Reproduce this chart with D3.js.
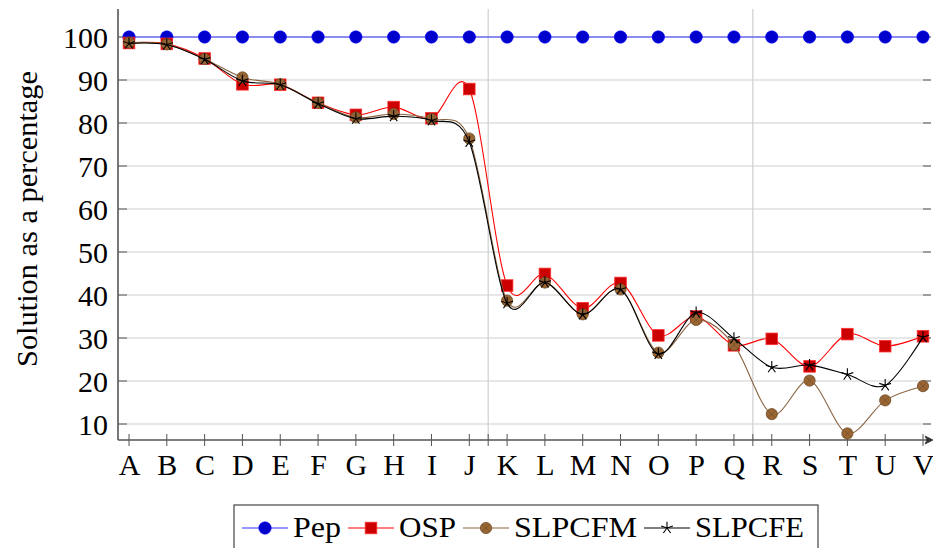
<!DOCTYPE html>
<html>
<head>
<meta charset="utf-8">
<script src="https://cdn.jsdelivr.net/npm/d3@7"></script>
<style>
  html, body { margin: 0; padding: 0; background: #fff; }
  svg { display: block; }
</style>
</head>
<body>
<svg id="chart" width="933" height="548"></svg>
<script>
// Instance labels along the x axis
const categories = ["A","B","C","D","E","F","G","H","I","J","K","L","M","N","O","P","Q","R","S","T","U","V"];

// Solution quality (percent) per method
const pep    = [100,100,100,100,100,100,100,100,100,100,100,100,100,100,100,100,100,100,100,100,100,100];
const osp    = [98.6,98.4,95.0,89.0,88.9,84.7,81.9,83.7,81.1,87.9,42.2,44.9,36.9,42.8,30.6,35.0,28.3,29.8,23.4,30.9,28.1,30.4];
const slpcfm = [98.7,98.3,94.9,90.6,89.0,84.7,81.3,82.1,80.9,76.4,38.7,42.9,35.5,41.3,26.6,34.2,28.4,12.3,20.1,7.8,15.5,18.8];
const slpcfe = [98.5,98.2,94.8,89.8,88.9,84.5,81.0,81.6,80.6,75.6,38.1,42.9,35.5,41.3,26.3,35.9,29.9,23.2,23.7,21.5,19.0,30.2];

const yTicks = [10,20,30,40,50,60,70,80,90,100];
const xGrid  = [9.5, 16.5];   // separators between instance groups
const seriesNames = ["Pep","OSP","SLPCFM","SLPCFE"];

const svg = d3.select("#chart");

// Pick an installed serif face; sizes tuned per face so glyph widths stay similar
const probe = svg.append("text").attr("x", -1000).attr("y", -1000).attr("font-size", 40)
  .text("SLPCFE Solution 1234567890");
function widthWith(family) {
  probe.style("font-family", family);
  return probe.node().getComputedTextLength();
}
const monoWidth = widthWith("monospace");
const candidates = [
  { family: "Liberation Serif", size: 30 },
  { family: "DejaVu Serif", size: 25 },
  { family: "Noto Serif", size: 27 }
];
let face = { family: "serif", size: 30 };
for (const c of candidates) {
  if (Math.abs(widthWith(`"${c.family}", monospace`) - monoWidth) > 0.5) { face = c; break; }
}
probe.remove();
const FONT = `"${face.family}", serif`;
const FS = face.size;

// Scales
const x = d3.scaleLinear().domain([0, categories.length - 1]).range([129, 923]);
const y = d3.scaleLinear().domain([10, 100]).range([424, 37]);

const plotLeft = 118, plotRight = 931, plotTop = 9, plotBottom = 440;
const gridColor = "#cfcfcf", axisColor = "#555";

// Horizontal grid lines
svg.append("g").selectAll("line").data(yTicks).join("line")
  .attr("x1", plotLeft).attr("x2", plotRight)
  .attr("y1", d => y(d)).attr("y2", d => y(d))
  .attr("stroke", gridColor).attr("stroke-width", 1.2);

// Vertical grid lines
svg.append("g").selectAll("line").data(xGrid).join("line")
  .attr("x1", d => x(d)).attr("x2", d => x(d))
  .attr("y1", plotTop).attr("y2", plotBottom)
  .attr("stroke", gridColor).attr("stroke-width", 1.2);

// Y tick marks (inside, both sides)
svg.append("g").selectAll("line").data(yTicks).join("line")
  .attr("x1", plotLeft).attr("x2", plotLeft + 9)
  .attr("y1", d => y(d)).attr("y2", d => y(d))
  .attr("stroke", axisColor).attr("stroke-width", 1);
svg.append("g").selectAll("line").data(yTicks).join("line")
  .attr("x1", plotRight - 8).attr("x2", plotRight)
  .attr("y1", d => y(d)).attr("y2", d => y(d))
  .attr("stroke", axisColor).attr("stroke-width", 1);

// Y axis with labels
const yAxis = svg.append("g")
  .attr("transform", `translate(${plotLeft},0)`)
  .call(d3.axisLeft(y).tickValues(yTicks).tickSize(0).tickPadding(10));
yAxis.select(".domain").remove();
yAxis.attr("font-family", null).attr("font-size", null);
yAxis.selectAll("text")
  .style("font-family", FONT).style("font-size", FS + "px")
  .attr("dy", "0.34em").attr("fill", "#000");

// X axis with labels
const xAxis = svg.append("g")
  .attr("transform", `translate(0,${plotBottom})`)
  .call(d3.axisBottom(x)
    .tickValues(d3.range(categories.length))
    .tickFormat(i => categories[i])
    .tickSize(0).tickPadding(14));
xAxis.select(".domain").remove();
xAxis.attr("font-family", null).attr("font-size", null);
xAxis.selectAll("text")
  .style("font-family", FONT).style("font-size", FS + "px")
  .attr("dy", "0.71em").attr("fill", "#000");

// X tick marks straddling the axis
svg.append("g").selectAll("line")
  .data(d3.range(categories.length).concat(xGrid)).join("line")
  .attr("x1", d => x(d)).attr("x2", d => x(d))
  .attr("y1", plotBottom - 6).attr("y2", plotBottom + 6)
  .attr("stroke", axisColor).attr("stroke-width", 1);

// Axis lines
svg.append("line").attr("x1", plotLeft).attr("x2", plotLeft).attr("y1", plotTop).attr("y2", plotBottom)
  .attr("stroke", axisColor).attr("stroke-width", 1.6);
svg.append("line").attr("x1", plotLeft).attr("x2", 930).attr("y1", plotBottom).attr("y2", plotBottom)
  .attr("stroke", axisColor).attr("stroke-width", 1.6);
svg.append("path").attr("d", `M925,${plotBottom-4} L933,${plotBottom} L925,${plotBottom+4} L927,${plotBottom} Z`)
  .attr("fill", "#333").attr("stroke", "#333").attr("stroke-width", 0.8);

// Y axis title
svg.append("text")
  .attr("transform", "translate(37,219) rotate(-90)")
  .attr("text-anchor", "middle")
  .style("font-family", FONT).style("font-size", FS + "px")
  .attr("textLength", 296).attr("lengthAdjust", "spacingAndGlyphs")
  .text("Solution as a percentage");

// Marker painters
function drawCircle(g, cx, cy) {
  g.append("circle").attr("cx", cx).attr("cy", cy).attr("r", 6.2)
    .attr("fill", "#0000cc").attr("stroke", "#0000ff").attr("stroke-width", 0.6);
}
function drawSquare(g, cx, cy) {
  g.append("rect").attr("x", cx - 5.8).attr("y", cy - 5.8).attr("width", 11.6).attr("height", 11.6)
    .attr("fill", "#cc0000").attr("stroke", "#ff3030").attr("stroke-width", 0.8);
}
function drawOtimes(g, cx, cy) {
  const r = 5.6, k = r * Math.SQRT1_2;
  g.append("circle").attr("cx", cx).attr("cy", cy).attr("r", r)
    .attr("fill", "#996633").attr("stroke", "#6e4a26").attr("stroke-width", 0.8);
  g.append("path").attr("d", `M${cx-k},${cy-k}L${cx+k},${cy+k}M${cx-k},${cy+k}L${cx+k},${cy-k}`)
    .attr("stroke", "#6e4a26").attr("stroke-width", 0.6);
}
function drawStar(g, cx, cy) {
  const r = 6.2;
  const d = d3.range(5).map(k => {
    const a = -Math.PI / 2 + k * 2 * Math.PI / 5;
    return `M${cx},${cy}L${cx + r * Math.cos(a)},${cy + r * Math.sin(a)}`;
  }).join("");
  g.append("path").attr("d", d).attr("stroke", "#000").attr("stroke-width", 1.1).attr("fill", "none");
}

const series = [
  { name: seriesNames[0], values: pep,    color: "#3030ff", marker: drawCircle },
  { name: seriesNames[1], values: osp,    color: "#ff0000", marker: drawSquare },
  { name: seriesNames[2], values: slpcfm, color: "#8a6440", marker: drawOtimes },
  { name: seriesNames[3], values: slpcfe, color: "#000000", marker: drawStar }
];

const line = d3.line()
  .x((d, i) => x(i))
  .y(d => y(d))
  .curve(d3.curveCardinal.tension(0.05));

// Series: line then its markers
series.forEach(s => {
  const g = svg.append("g");
  g.append("path").datum(s.values).attr("d", line)
    .attr("fill", "none").attr("stroke", s.color).attr("stroke-width", 1.1);
  s.values.forEach((v, i) => s.marker(g, x(i), y(v)));
});

// Legend
const legend = svg.append("g");
const legendTop = 505, legendY = 528;
const legendTextWidths = [48, 57, 123, 109];
legend.append("rect").attr("x", 234).attr("y", legendTop).attr("width", 584).attr("height", 60)
  .attr("fill", "#fff").attr("stroke", "#444").attr("stroke-width", 1.2);
let cursor = 242;
series.forEach((s, i) => {
  const g = legend.append("g");
  g.append("line").attr("x1", cursor).attr("x2", cursor + 46)
    .attr("y1", legendY).attr("y2", legendY)
    .attr("stroke", s.color).attr("stroke-width", 1.1);
  s.marker(g, cursor + 23, legendY);
  g.append("text").attr("x", cursor + 51).attr("y", 537)
    .style("font-family", FONT).style("font-size", FS + "px")
    .attr("textLength", legendTextWidths[i]).attr("lengthAdjust", "spacingAndGlyphs")
    .text(s.name);
  cursor = cursor + 51 + legendTextWidths[i] + 7;
});
</script>
</body>
</html>
